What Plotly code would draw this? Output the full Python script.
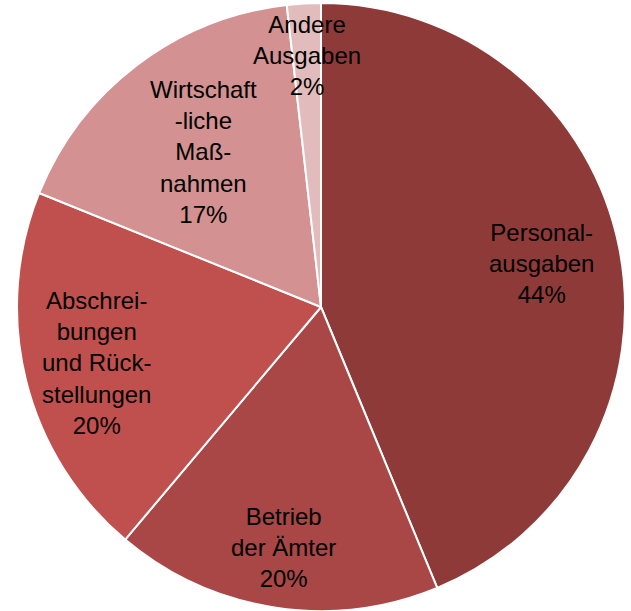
import math
import plotly.graph_objects as go

categories = ["Personal-<br>ausgaben", "Betrieb<br>der Ämter", "Abschrei-<br>bungen<br>und Rück-<br>stellungen",
              "Wirtschaft<br>-liche<br>Maß-<br>nahmen", "Andere<br>Ausgaben"]
values = [43.8, 17.4, 20.0, 17.1, 1.8]
pct_labels = ["44%", "20%", "20%", "17%", "2%"]
colors = ["#8E3A39", "#A84746", "#C0504E", "#D39191", "#E2BCBC"]
label_radius = [0.74, 0.80, 0.76, 0.64, 0.83]  # fraction of pie radius for label placement

W, H = 631, 611
CX, CY, R = 321, 307, 304  # pie centre / radius in pixels
dom_x = [(CX - R) / W, (CX + R) / W]
dom_y = [max(0.0, 1 - (CY + R) / H), 1 - (CY - R) / H]

fig = go.Figure(go.Pie(
    values=values,
    textinfo="none",
    sort=False,
    direction="clockwise",
    rotation=0,
    marker=dict(colors=colors, line=dict(color="white", width=2)),
    domain=dict(x=dom_x, y=dom_y),
    hoverinfo="skip",
))

font = dict(family="Liberation Sans Narrow, Arial Narrow, Liberation Sans, Arial", size=24, color="black")
total = sum(values)
cum = 0.0
for cat, pct, v, f in zip(categories, pct_labels, values, label_radius):
    mid = (cum + v / 2) / total * 2 * math.pi
    cum += v
    px = CX + R * f * math.sin(mid)
    py = CY - R * f * math.cos(mid)
    fig.add_annotation(x=px / W, y=1 - py / H, xref="paper", yref="paper",
                       text=f"{cat}<br>{pct}", showarrow=False, font=font,
                       xanchor="center", yanchor="middle", align="center")

fig.update_layout(
    width=W, height=H,
    margin=dict(l=0, r=0, t=0, b=0),
    showlegend=False,
    paper_bgcolor="white",
)
fig.write_html("out.html", config={"displayModeBar": False},
               post_script="document.body.style.margin='0';")
